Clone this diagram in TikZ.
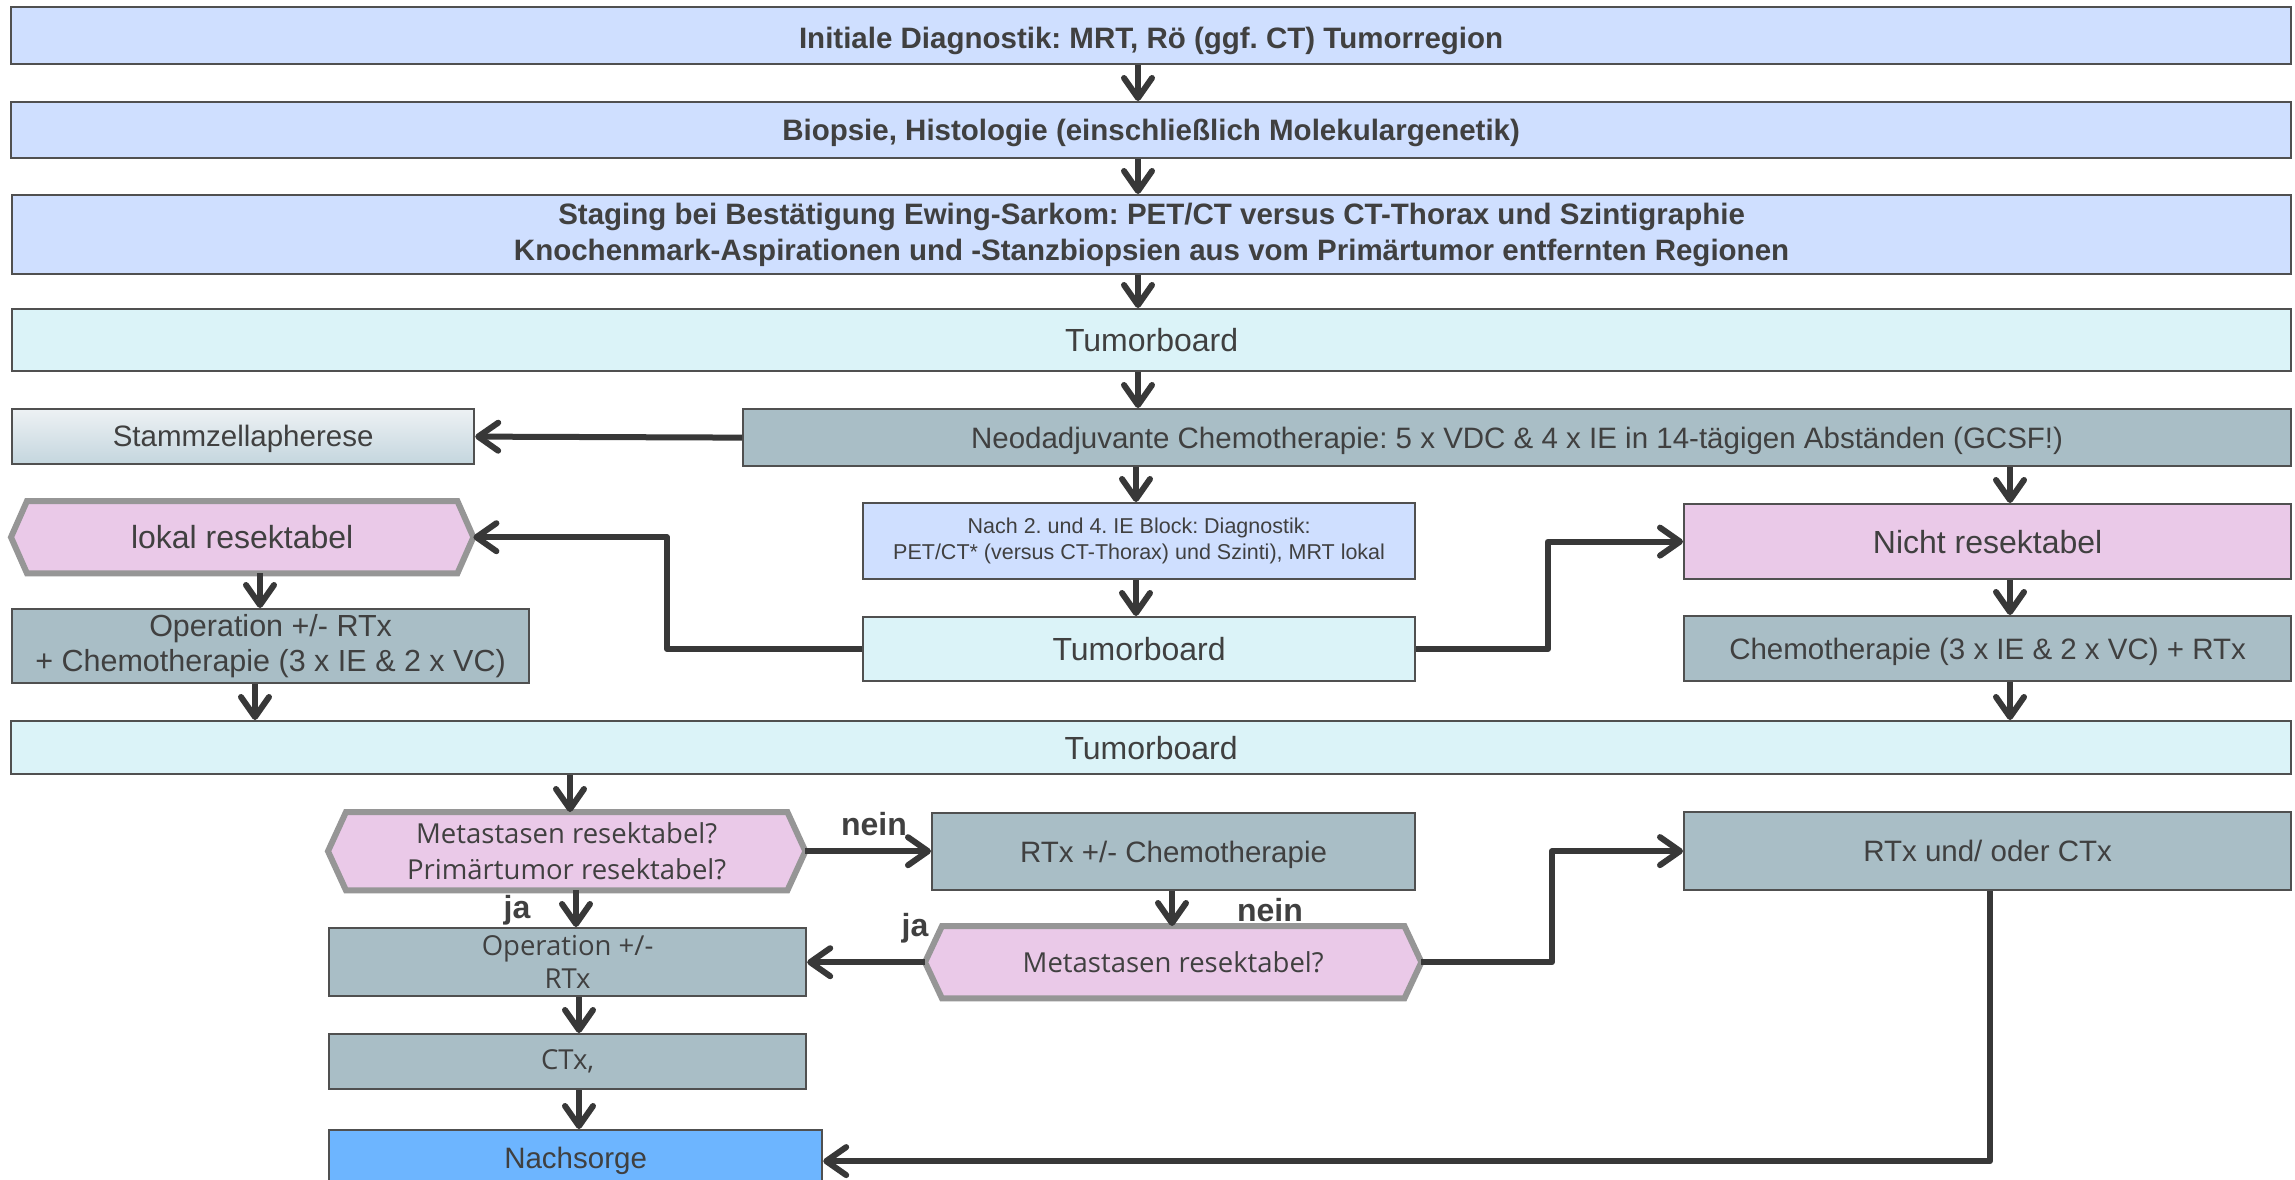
\documentclass[tikz,border=0pt]{standalone}
\usepackage{fontspec}
\setmainfont{Liberation Sans}
\newfontfamily\segoefont{Open Sans}
\usetikzlibrary{arrows.meta,backgrounds,calc}
\definecolor{lb}{RGB}{207,223,255}
\definecolor{tbc}{RGB}{219,243,248}
\definecolor{gb}{RGB}{169,190,198}
\definecolor{pk}{RGB}{234,201,232}
\definecolor{ns}{RGB}{109,181,255}
\definecolor{stt}{RGB}{237,241,244}
\definecolor{stb}{RGB}{196,214,222}
\definecolor{bord}{RGB}{80,80,80}
\definecolor{hexb}{RGB}{150,150,150}
\definecolor{arr}{RGB}{56,56,56}
\definecolor{txt}{RGB}{64,64,64}
\tikzset{
  bx/.style={draw=bord, line width=2.2pt, text=txt, align=center, inner sep=0pt, anchor=north west},
  hexnode/.style={text=txt, align=center, inner sep=0pt, anchor=north west},
  hexline/.style={draw=hexb, fill=pk, line width=6pt, line join=miter},
  fbold/.style={font=\bfseries\fontsize{29.5}{36}\selectfont},
  fbig/.style={font=\fontsize{32}{38}\selectfont},
  fmid/.style={font=\fontsize{29.5}{35}\selectfont},
  fsmall/.style={font=\fontsize{21.5}{26}\selectfont},
  fseg/.style={font=\segoefont\fontsize{27.5}{35}\selectfont},
  lowtext/.style={text height=21.2pt, text depth=0pt},
  lbl/.style={font=\bfseries\fontsize{32}{38}\selectfont, text=txt, inner sep=0pt},
  conn/.style={draw=arr, line width=6pt, line join=round, -{Straight Barb[length=20pt,width=28pt,round]}},
}
\begin{document}
\frenchspacing
\begin{tikzpicture}[x=1pt,y=-1pt]
\useasboundingbox (0,0) rectangle (2295,1179);

% column coordinates
\coordinate (cMain) at (1138,0);
\coordinate (cMainB) at (1136,0);
\coordinate (cR) at (2010,0);
\coordinate (cLa) at (260,0);
\coordinate (cLb) at (255,0);
\coordinate (cMa) at (570,0);
\coordinate (cMb) at (576,0);
\coordinate (cMc) at (579,0);
\coordinate (cRC) at (1172,0);
\coordinate (cEL) at (667,0);
\coordinate (cER) at (1548,0);
\coordinate (cERb) at (1552,0);
\coordinate (cDn) at (1990,0);

% boxes
\node[bx, fill=lb, fbold, text height=26pt, text depth=0pt, minimum width=2280pt, minimum height=57pt] (b1) at (10,6) {Initiale Diagnostik: MRT, Rö (ggf. CT) Tumorregion};
\node[bx, fill=lb, fbold, lowtext, minimum width=2280pt, minimum height=56pt] (b2) at (10,101) {Biopsie, Histologie (einschließlich Molekulargenetik)};
\node[bx, fill=lb, fbold, minimum width=2279pt, minimum height=79pt] (b3) at (11,194) {Staging bei Bestätigung Ewing-Sarkom: PET/CT versus CT-Thorax und Szintigraphie\\Knochenmark-Aspirationen und -Stanzbiopsien aus vom Primärtumor entfernten Regionen};
\node[bx, fill=tbc, fbig, minimum width=2279pt, minimum height=62pt] (tb1) at (11,308) {Tumorboard};
\node[bx, top color=stt, bottom color=stb, fmid, text height=20pt, text depth=0pt, minimum width=462pt, minimum height=55pt] (stamm) at (11,408) {Stammzellapherese};
\node[bx, fill=gb, fmid, lowtext, minimum width=1548pt, minimum height=57pt] (neo) at (742,408) {Neodadjuvante Chemotherapie: 5 x VDC \& 4 x IE in 14-tägigen Abständen (GCSF!)};
\node[bx, fill=lb, fsmall, minimum width=552pt, minimum height=76pt] (nach) at (862,502) {Nach 2. und 4. IE Block: Diagnostik:\\PET/CT* (versus CT-Thorax) und Szinti), MRT lokal};
\node[hexnode, fbig, minimum width=462pt, minimum height=72pt] (lokal) at (11,501) {lokal resektabel};
\node[bx, fill=pk, fbig, minimum width=607pt, minimum height=75pt] (nicht) at (1683,503) {Nicht resektabel};
\node[bx, fill=gb, font=\fontsize{30.5}{35}\selectfont, minimum width=517pt, minimum height=74pt] (op1) at (11,608) {Operation +/- RTx\\+ Chemotherapie (3 x IE \& 2 x VC)};
\node[bx, fill=tbc, fbig, minimum width=552pt, minimum height=64pt] (tb2) at (862,616) {Tumorboard};
\node[bx, fill=gb, fmid, lowtext, minimum width=607pt, minimum height=65pt] (chemo) at (1683,615) {Chemotherapie (3 x IE \& 2 x VC) + RTx};
\node[bx, fill=tbc, fbig, minimum width=2280pt, minimum height=53pt] (tb3) at (10,720) {Tumorboard};
\node[hexnode, font=\segoefont\fontsize{27.5}{36}\selectfont, minimum width=477pt, minimum height=78pt] (meta1) at (328,812) {Metastasen resektabel?\\Primärtumor resektabel?};
\node[bx, fill=gb, fmid, lowtext, minimum width=483pt, minimum height=77pt] (rtxc) at (931,812) {RTx +/- Chemotherapie};
\node[bx, fill=gb, fmid, minimum width=607pt, minimum height=78pt] (rtxctx) at (1683,811) {RTx und/ oder CTx};
\node[bx, fill=gb, font=\segoefont\fontsize{27.5}{33}\selectfont, minimum width=477pt, minimum height=68pt] (op2) at (328,927) {Operation +/-\\RTx};
\node[hexnode, fseg, minimum width=496pt, minimum height=72pt] (meta2) at (925,926) {Metastasen resektabel?};
\node[bx, fill=gb, fseg, minimum width=477pt, minimum height=55pt] (ctx) at (328,1033) {CTx,};
\node[bx, fill=ns, fmid, minimum width=493pt, minimum height=62pt] (nachs) at (328,1129) {Nachsorge};

% background and hexagon outlines
\begin{scope}[on background layer]
\fill[white] (0,0) rectangle (2295,1179);
\draw[hexline] (lokal.west) -- ([xshift=16pt]lokal.north west) -- ([xshift=-16pt]lokal.north east) -- (lokal.east) -- ([xshift=-16pt]lokal.south east) -- ([xshift=16pt]lokal.south west) -- cycle;
\draw[hexline] (meta1.west) -- ([xshift=18pt]meta1.north west) -- ([xshift=-18pt]meta1.north east) -- (meta1.east) -- ([xshift=-18pt]meta1.south east) -- ([xshift=18pt]meta1.south west) -- cycle;
\draw[hexline] (meta2.west) -- ([xshift=17pt]meta2.north west) -- ([xshift=-17pt]meta2.north east) -- (meta2.east) -- ([xshift=-17pt]meta2.south east) -- ([xshift=17pt]meta2.south west) -- cycle;
\end{scope}

% connectors
\draw[conn] (b1.south -| cMain) -- (b2.north -| cMain);
\draw[conn] (b2.south -| cMain) -- (b3.north -| cMain);
\draw[conn] (b3.south -| cMain) -- (tb1.north -| cMain);
\draw[conn] (tb1.south -| cMain) -- (neo.north -| cMain);
\draw[conn] (neo.west) -- (stamm.east);
\draw[conn] (neo.south -| cMainB) -- (nach.north -| cMainB);
\draw[conn] (neo.south -| cR) -- (nicht.north -| cR);
\draw[conn] (nach.south -| cMainB) -- (tb2.north -| cMainB);
\draw[conn] (tb2.west) -- (tb2.west -| cEL) -- (cEL |- lokal.east) -- (lokal.east);
\draw[conn] (tb2.east) -- (tb2.east -| cER) -- (cER |- nicht.west) -- (nicht.west);
\draw[conn] (lokal.south -| cLa) -- (op1.north -| cLa);
\draw[conn] (op1.south -| cLb) -- (tb3.north -| cLb);
\draw[conn] (nicht.south -| cR) -- (chemo.north -| cR);
\draw[conn] (chemo.south -| cR) -- (tb3.north -| cR);
\draw[conn] (tb3.south -| cMa) -- (meta1.north -| cMa);
\draw[conn] (meta1.south -| cMb) -- (op2.north -| cMb);
\draw[conn] (meta1.east) -- (rtxc.west |- meta1.east);
\draw[conn] (rtxc.south -| cRC) -- (meta2.north -| cRC);
\draw[conn] (meta2.west) -- (op2.east |- meta2.west);
\draw[conn] (meta2.east) -- (meta2.east -| cERb) -- (cERb |- rtxctx.west) -- (rtxctx.west);
\draw[conn] (op2.south -| cMc) -- (ctx.north -| cMc);
\draw[conn] (ctx.south -| cMc) -- (nachs.north -| cMc);
\draw[conn] (rtxctx.south -| cDn) -- (cDn |- nachs.east) -- (nachs.east);

% labels
\node[lbl] (lnein1) at (874,824) {nein};
\node[lbl] (lja1) at (517,910) {ja};
\node[lbl] (lnein2) at (1270,910) {nein};
\node[lbl] (lja2) at (915,928) {ja};
\end{tikzpicture}
\end{document}
